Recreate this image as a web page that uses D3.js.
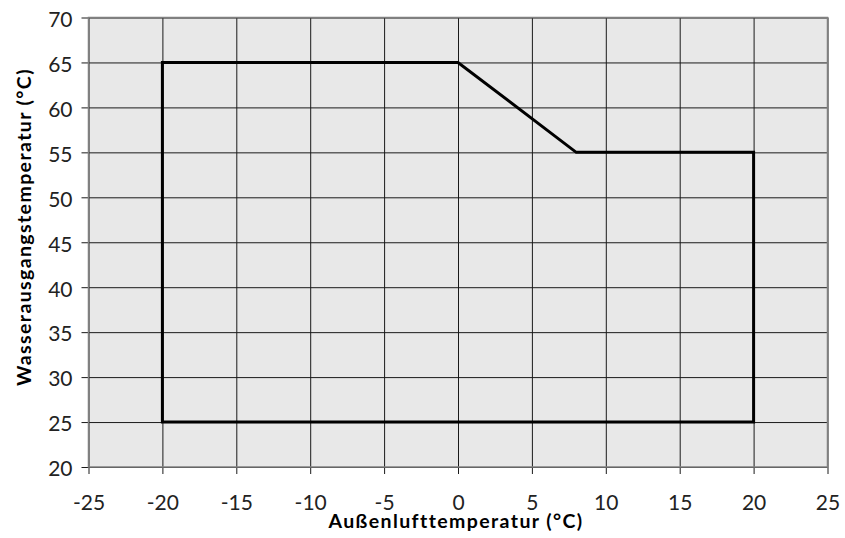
<!DOCTYPE html>
<html><head><meta charset="utf-8">
<script src="https://cdn.jsdelivr.net/npm/d3@7"></script>
<style>body{margin:0;background:#fff}svg{display:block}</style>
</head><body>
<svg id="c" width="845" height="538"></svg>
<script>
const xTicks = [-25,-20,-15,-10,-5,0,5,10,15,20,25];
const yTicks = [20,25,30,35,40,45,50,55,60,65,70];
const envelopeX = [-20, 0, 8, 20, 20, -20, -20];
const envelopeY = [65, 65, 55, 55, 25, 25, 65];
const xTitle = "Außenlufttemperatur (°C)";
const yTitle = "Wasserausgangstemperatur (°C)";

const svg = d3.select("#c");
const L = 88.5, R = 827.5, T = 17.5, B = 467;
const x = d3.scaleLinear().domain([-25,25]).range([L,R]);
const y = d3.scaleLinear().domain([20,70]).range([B,T]);
const font = "Lato, 'Open Sans', sans-serif";
const fmt = d => String(d);

svg.append("rect").attr("x",L).attr("y",T).attr("width",R-L).attr("height",B-T).attr("fill","#e8e8e8");

const gx = svg.append("g").attr("transform",`translate(0,${B})`)
  .call(d3.axisBottom(x).tickValues(xTicks).tickSize(-(B-T)).tickSizeOuter(0).tickPadding(0).tickFormat(fmt));
gx.select(".domain").remove();
gx.selectAll(".tick line").attr("stroke","#1a1a1a").attr("stroke-width",1).attr("y2",-(B-T)).attr("y1",7);
gx.selectAll(".tick text").attr("y",43).attr("dy",0).attr("font-family",font).attr("font-size",21).attr("fill","#222");

const gy = svg.append("g").attr("transform",`translate(${L},0)`)
  .call(d3.axisLeft(y).tickValues(yTicks).tickSize(-(R-L)).tickSizeOuter(0).tickFormat(fmt));
gy.select(".domain").remove();
gy.selectAll(".tick line").attr("stroke","#1a1a1a").attr("stroke-width",1).attr("x1",-7).attr("x2",R-L);
gy.selectAll(".tick text").attr("x",-16).attr("dy","0.42em").attr("font-family",font).attr("font-size",21).attr("fill","#222");

svg.append("rect").attr("x",L).attr("y",T).attr("width",R-L).attr("height",B-T)
  .attr("fill","none").attr("stroke","#808080").attr("stroke-width",1.5);

const pts = envelopeX.map((v,i)=>[x(v),y(envelopeY[i])]);
svg.append("path").attr("d",d3.line()(pts)).attr("fill","none").attr("stroke","#000")
  .attr("stroke-width",3).attr("stroke-linejoin","miter").attr("stroke-linecap","square");

svg.append("text").attr("x",456).attr("y",528).attr("text-anchor","middle")
  .attr("font-family",font).attr("font-weight","bold").attr("font-size",19.5).attr("letter-spacing","1.4px")
  .attr("fill","#000").text(xTitle);
svg.append("text").attr("transform","translate(31,227) rotate(-90)").attr("text-anchor","middle")
  .attr("font-family",font).attr("font-weight","bold").attr("font-size",19.5).attr("letter-spacing","1.4px")
  .attr("fill","#000").text(yTitle);
</script>
</body></html>
